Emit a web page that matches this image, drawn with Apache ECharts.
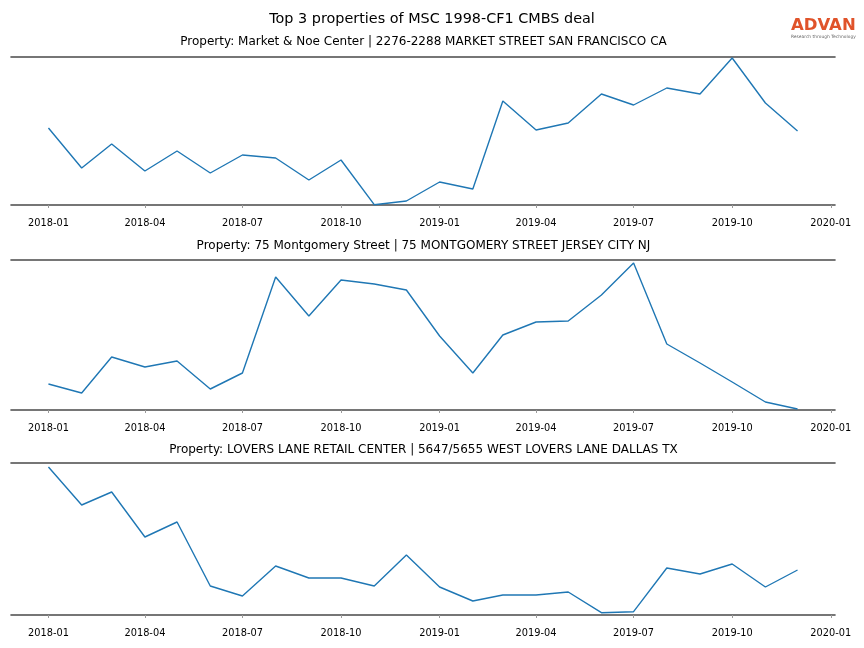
<!DOCTYPE html>
<html>
<head>
<meta charset="utf-8">
<script src="https://cdn.jsdelivr.net/npm/echarts@6/dist/echarts.min.js"></script>
<style>
html,body{margin:0;padding:0;background:#fff;}
#chart{width:864px;height:648px;}
</style>
</head>
<body>
<div id="chart"></div>
<script>
const mainTitle = 'Top 3 properties of MSC 1998-CF1 CMBS deal';
const subTitles = [
  'Property: Market & Noe Center | 2276-2288 MARKET STREET SAN FRANCISCO CA',
  'Property: 75 Montgomery Street | 75 MONTGOMERY STREET JERSEY CITY NJ',
  'Property: LOVERS LANE RETAIL CENTER | 5647/5655 WEST LOVERS LANE DALLAS TX'
];
const months = ['2018-01','2018-02','2018-03','2018-04','2018-05','2018-06','2018-07','2018-08','2018-09','2018-10','2018-11','2018-12',
                '2019-01','2019-02','2019-03','2019-04','2019-05','2019-06','2019-07','2019-08','2019-09','2019-10','2019-11','2019-12'];
const tickLabels = ['2018-01','2018-04','2018-07','2018-10','2019-01','2019-04','2019-07','2019-10','2020-01'];
const marketNoe = [77,37,61,34,54,32,50,47,25,45,0.3,4,23,16,104,75,82,111,100,117,111,147,102,74];
const montgomery = [26,17,53,43,49,21,37,133,94,130,126,120,74,37,75,88,89,115,147,66,47,28,8,1];
const loversLane = [148,110,123,78,93,29,19,49,37,37,29,60,28,14,20,20,23,2.3,3.3,47,41,51,28,45];
const seriesValues = [marketNoe, montgomery, loversLane];
const yMins = [0, 0, 0];
const yMaxs = [148, 150, 152];

function ts(s){ const p = s.split('-'); return Date.UTC(+p[0], +p[1]-1, 1); }
function fmt(v){ const d = new Date(v); const m = d.getUTCMonth()+1; return d.getUTCFullYear() + '-' + (m<10?'0':'') + m; }

const first = ts(months[0]), last = ts(months[months.length-1]);
const pad = (last-first)*0.05;
const xMin = first - pad, xMax = last + pad;
const tickVals = tickLabels.map(ts);

const grids = [
  {left:11, right:29, top:57, height:148},
  {left:11, right:29, top:260, height:150},
  {left:11, right:29, top:463, height:152}
];
const subTitleY = [42, 246, 450];

const xAxes = [], yAxes = [], series = [], graphics = [];
grids.forEach((g, i) => {
  xAxes.push({
    type:'value', gridIndex:i, min:xMin, max:xMax, position:'bottom', offset:7,
    axisLine:{show:false},
    axisTick:{show:true, length:3, customValues:tickVals, lineStyle:{color:'#9a9a9a', width:1}},
    axisLabel:{show:true, customValues:tickVals, formatter:fmt, margin:6, fontSize:9.8, color:'#000', fontFamily:'DejaVu Sans', showMinLabel:true, showMaxLabel:true},
    splitLine:{show:false}
  });
  xAxes.push({
    type:'value', gridIndex:i, min:0, max:1, position:'bottom',
    axisLine:{show:true, onZero:false, lineStyle:{color:'#4a4a4a', width:1.6}},
    axisTick:{show:false}, axisLabel:{show:false}, splitLine:{show:false}
  });
  xAxes.push({
    type:'value', gridIndex:i, min:0, max:1, position:'top',
    axisLine:{show:true, onZero:false, lineStyle:{color:'#4a4a4a', width:1.6}},
    axisTick:{show:false}, axisLabel:{show:false}, splitLine:{show:false}
  });
  yAxes.push({type:'value', gridIndex:i, min:yMins[i], max:yMaxs[i], show:false});
  series.push({
    type:'line', xAxisIndex:i*3, yAxisIndex:i, showSymbol:false, symbol:'none',
    lineStyle:{color:'#1f77b4', width:1.4}, animation:false,
    data: months.map((m, k) => [ts(m), seriesValues[i][k]])
  });
  graphics.push({
    type:'text', x:423.5, y:subTitleY[i],
    style:{text:subTitles[i], font:'12px "DejaVu Sans"', fill:'#000', align:'center', verticalAlign:'middle'}
  });
});

graphics.push({type:'text', x:432, y:19, style:{text:mainTitle, font:'14.4px "DejaVu Sans"', fill:'#000', align:'center', verticalAlign:'middle'}});
graphics.push({type:'text', x:791, y:26, style:{text:'ADVAN', font:'bold 16.5px "DejaVu Sans"', fill:'#e0532a', align:'left', verticalAlign:'middle'}});
graphics.push({type:'text', x:791, y:36.5, style:{text:'Research through Technology', font:'4.4px "DejaVu Sans"', fill:'#666', align:'left', verticalAlign:'middle'}});

const chart = echarts.init(document.getElementById('chart'), null, {renderer:'canvas'});
chart.setOption({
  animation:false,
  backgroundColor:'#fff',
  grid: grids,
  xAxis: xAxes,
  yAxis: yAxes,
  series: series,
  graphic: graphics
});
</script>
</body>
</html>
